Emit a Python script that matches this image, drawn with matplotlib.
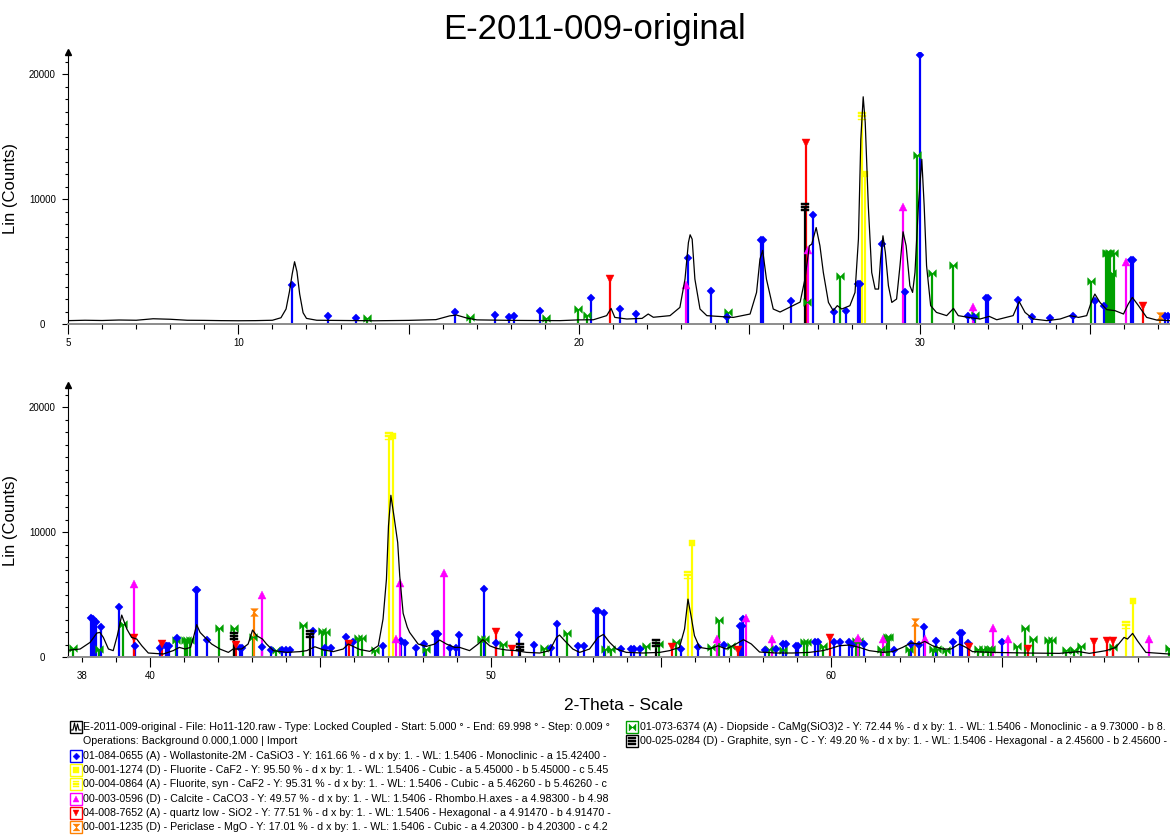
import matplotlib
matplotlib.use("Agg")
import matplotlib.pyplot as plt
from matplotlib.path import Path
from matplotlib.patches import Rectangle
from matplotlib.ticker import MultipleLocator, FixedLocator, FuncFormatter

plt.rcParams['font.family'] = ['Liberation Sans', 'DejaVu Sans']

top_theta = [5.0, 5.5, 6.0, 6.5, 7.0, 7.5, 8.0, 8.5, 9.0, 9.5, 10.0, 10.5, 11.0, 11.25, 11.4,
             11.5, 11.58, 11.65, 11.72, 11.8, 11.9, 12.0, 12.3, 13.0, 14.0, 15.0, 15.8, 16.2,
             16.4, 16.7, 17.0, 18.0, 19.0, 19.44, 20.0, 20.42, 20.81, 20.94, 21.05, 21.4, 21.85,
             22.03, 22.18, 22.67, 22.96, 23.11, 23.21, 23.26, 23.32, 23.4, 23.55, 23.75, 24.53,
             25.02, 25.21, 25.31, 25.39, 25.5, 25.7, 25.9, 26.28, 26.49, 26.63, 26.76, 26.83,
             26.96, 27.07, 27.17, 27.32, 27.46, 27.58, 27.71, 27.95, 28.1, 28.2, 28.27, 28.34,
             28.4, 28.49, 28.59, 28.69, 28.79, 28.85, 28.92, 28.99, 29.08, 29.18, 29.32, 29.42,
             29.51, 29.6, 29.71, 29.79, 29.86, 29.96, 30.06, 30.13, 30.2, 30.32, 30.49, 30.79,
             30.99, 31.13, 31.43, 31.77, 32.04, 32.26, 32.74, 32.92, 33.09, 33.33, 33.73, 34.12,
             34.41, 34.66, 34.9, 35.05, 35.14, 35.29, 35.49, 35.73, 35.98, 36.12, 36.24, 36.42,
             36.66, 36.95, 37.34, 37.6]
top_counts = [270, 300, 280, 320, 300, 420, 380, 300, 290, 270, 260, 270, 300, 500, 1200,
              2600, 4000, 4990, 4200, 2400, 900, 450, 300, 280, 260, 290, 350, 650,
              720, 480, 330, 290, 280, 270, 330, 340, 670, 1250, 530, 400, 450,
              800, 540, 670, 1330, 3600, 6530, 7150, 6800, 3600, 1200, 670, 530,
              800, 2530, 5200, 5900, 3600, 1200, 960, 1470, 1760, 3600, 6270, 6400,
              7730, 6270, 4130, 1730, 1070, 1470, 1200, 1470, 2530, 6800, 14800, 18210,
              16130, 9470, 4130, 2800, 2800, 5200, 7070, 5730, 3070, 1730, 2000, 4670,
              7390, 6270, 3070, 2530, 4130, 9470, 13200, 9470, 4670, 1470, 930, 670,
              1250, 670, 530, 400, 610, 340, 670, 1790, 930, 400, 270, 400,
              670, 530, 670, 1870, 2400, 1730, 1150, 1070, 800, 1600, 2130, 1470,
              530, 320, 270, 400]

bot_theta = [37.5, 37.95, 38.24, 38.44, 38.53, 38.63, 38.78, 38.92, 39.04, 39.17, 39.32, 39.46,
             39.61, 39.76, 39.95, 40.39, 40.68, 40.86, 41.03, 41.19, 41.29, 41.37, 41.47, 41.66,
             41.81, 42.05, 42.3, 42.44, 42.69, 42.88, 43.01, 43.13, 43.3, 43.42, 43.62, 44.01,
             44.4, 44.6, 44.84, 45.08, 45.38, 45.67, 45.82, 45.96, 46.16, 46.45, 46.7, 46.84,
             46.94, 47.0, 47.07, 47.16, 47.27, 47.33, 47.43, 47.55, 47.62, 47.87, 48.11, 48.36,
             48.5, 48.7, 48.94, 49.09, 49.38, 49.63, 49.77, 49.97, 50.17, 50.46, 50.75, 51.05,
             51.44, 51.73, 51.93, 52.02, 52.17, 52.41, 52.61, 52.9, 53.15, 53.31, 53.49, 53.69,
             53.98, 54.47, 54.96, 55.25, 55.54, 55.69, 55.79, 55.88, 55.98, 56.13, 56.42, 56.67,
             56.91, 57.2, 57.42, 57.65, 57.89, 58.38, 58.86, 59.35, 59.75, 59.99, 60.23, 60.53,
             60.82, 61.11, 61.5, 61.79, 62.09, 62.33, 62.58, 62.74, 62.97, 63.26, 63.51, 63.75,
             63.95, 64.14, 64.73, 65.71, 66.69, 67.27, 67.57, 68.06, 68.35, 68.59, 68.69, 68.84,
             68.98, 69.23, 69.91, 70.1]
bot_counts = [510, 640, 1170, 1920, 1970, 1570, 640, 510, 1710, 3360, 2240, 1570,
              1440, 900, 320, 240, 510, 770, 640, 770, 1710, 2590, 1970, 1440,
              1040, 640, 370, 640, 640, 1040, 2160, 1710, 1440, 1040, 510, 370,
              430, 510, 820, 580, 430, 640, 1040, 850, 600, 450, 900, 3040,
              6240, 10500, 12960, 11300, 9170, 6500, 3500, 2400, 1970, 1040, 850, 1040,
              1360, 1040, 770, 770, 510, 1040, 1390, 900, 690, 560, 510, 370,
              320, 510, 1570, 1760, 1310, 640, 370, 640, 1570, 1810, 1170, 640,
              370, 320, 370, 510, 770, 2240, 4640, 3300, 1710, 770, 640, 900,
              640, 1040, 1390, 1040, 400, 320, 320, 370, 510, 690, 900, 960,
              770, 510, 370, 430, 770, 1120, 1040, 1250, 900, 640, 640, 1040,
              770, 430, 370, 320, 290, 430, 290, 510, 770, 1570, 1440, 1890,
              1310, 370, 240, 240]

# reference patterns (stick positions in 2-theta, stick heights in counts)
wol_pos = [11.58, 12.64, 13.45, 16.36, 17.53, 17.94, 18.09, 18.85, 20.35, 21.21, 21.68, 23.21,
           23.87, 24.33, 25.33, 25.39, 26.22, 26.88, 27.49, 27.83, 28.2, 28.25, 28.9, 29.58,
           30.02, 31.43, 31.59, 31.94, 32.0, 32.89, 33.3, 33.83, 34.5, 35.14, 35.41, 36.2,
           36.25, 37.19, 37.3,
           38.27, 38.32, 38.36, 38.42, 38.56, 39.1, 39.56, 40.29, 40.47, 40.51, 40.56, 40.78,
           41.35, 41.39, 41.68, 42.64, 42.71, 43.3, 43.54, 43.86, 43.99, 44.11, 44.79, 45.15,
           45.3, 45.74, 45.96, 46.84, 47.38, 47.48, 47.82, 48.03, 48.36, 48.41, 48.45, 48.8,
           48.99, 49.07, 49.79, 50.17, 50.83, 51.26, 51.76, 51.96, 52.57, 52.73, 53.1, 53.16,
           53.32, 53.83, 54.12, 54.22, 54.37, 55.6, 56.08, 56.84, 57.33, 57.37, 57.4, 58.04,
           58.38, 58.57, 58.67, 58.96, 59.03, 59.53, 59.6, 60.09, 60.24, 60.53, 60.61, 60.97,
           61.85, 62.34, 62.56, 62.73, 63.07, 63.58, 63.78, 63.82, 64.0, 65.0]
wol_h = [3120, 640, 500, 960, 720, 560, 640, 1040, 2080, 1230, 800, 5310,
         2640, 560, 6770, 6770, 1840, 8770, 990, 1070, 3200, 3200, 6450, 2590,
         21570, 670, 560, 2100, 2100, 1950, 560, 510, 610, 1870, 1410, 5090,
         5090, 610, 610,
         3090, 3040, 2850, 2770, 2370, 3970, 910, 690, 850, 850, 850, 1520,
         5390, 5390, 1360, 690, 690, 770, 560, 560, 560, 560, 2050, 720,
         740, 1630, 1170, 910, 1310, 1120, 690, 1040, 1840, 1840, 1840, 740,
         740, 1790, 5490, 1120, 1790, 950, 740, 2640, 910, 910, 3710, 3710,
         3490, 640, 640, 640, 640, 640, 770, 990, 2450, 2450, 3040, 560,
         640, 1040, 1040, 850, 850, 1170, 1170, 1230, 1230, 1170, 950, 1040,
         560, 1040, 950, 2370, 1310, 1170, 1890, 1890, 1120, 1230]

flu_pos = [28.39, 47.14, 55.92, 68.84]
flu_h = [12050, 17700, 9120, 4450]

flusyn_pos = [28.31, 47.02, 55.79, 68.65]
flusyn_h = [16640, 17700, 6570, 2590]

cal_pos = [23.15, 26.73, 29.5, 31.55, 36.04, 39.53, 43.28, 47.23, 47.33, 48.63, 56.65, 57.5,
           58.25, 60.77, 61.51, 62.75, 64.75, 65.17, 69.31]
cal_h = [3150, 5900, 9410, 1390, 4930, 5880, 4970, 1440, 5920, 6770, 1410, 3130,
         1410, 1490, 1410, 1410, 2290, 1410, 1410]

qtz_pos = [20.91, 26.67, 36.56, 39.53, 40.35, 42.52, 45.83, 50.17, 50.63, 55.33, 57.25, 59.96,
           64.03, 65.76, 67.71, 68.1, 68.28]
qtz_h = [3600, 14530, 1410, 1540, 1040, 1000, 1040, 2030, 640, 770, 560, 1490,
         820, 640, 1170, 1250, 1250]

per_pos = [37.04, 43.05, 62.45]
per_h = [670, 3600, 2830]

dio_pos = [13.78, 16.8, 19.03, 19.98, 20.22, 24.36, 26.7, 27.66, 29.93, 30.37, 30.97, 31.63,
           35.03, 35.46, 35.51, 35.55, 35.59, 35.65, 35.71,
           37.73, 38.51, 39.2, 40.77, 41.04, 41.1, 41.16, 42.02, 42.48, 43.03, 43.71, 44.48,
           45.06, 45.18, 46.11, 46.21, 46.6, 48.11, 49.72, 49.82, 50.36, 51.55, 52.24, 53.35,
           53.54, 54.56, 54.94, 55.43, 56.47, 56.7, 57.06, 58.18, 58.59, 59.21, 59.28, 59.75,
           60.72, 60.82, 61.46, 61.63, 61.7, 62.27, 62.99, 63.09, 63.36, 64.29, 64.44, 64.59,
           64.68, 65.45, 65.68, 65.93, 66.37, 66.47, 66.9, 67.13, 67.34, 68.27, 69.91]
dio_h = [500, 560, 480, 1200, 750, 960, 1730, 3870, 13550, 4050, 4720, 750,
         3470, 5710, 5710, 5710, 5710, 4080, 5710,
         700, 640, 2670, 1390, 1360, 1360, 1360, 2290, 2290, 1570, 560, 2590,
         2080, 1970, 1510, 1520, 560, 640, 1440, 1440, 1040, 720, 1890, 640,
         640, 910, 1040, 1170, 770, 2960, 850, 640, 560, 1170, 1170, 850,
         1310, 1310, 640, 1630, 1630, 640, 640, 640, 560, 640, 640, 640,
         640, 850, 2290, 1440, 1360, 1360, 560, 560, 850, 770, 690]

gra_pos = [26.63, 42.47, 44.71, 50.85, 54.84]
gra_h = [9400, 1700, 1840, 820, 1120]

legend_left = [
    "01-084-0655 (A) - Wollastonite-2M - CaSiO3 - Y: 161.66 % - d x by: 1. - WL: 1.5406 - Monoclinic - a 15.42400 -",
    "00-001-1274 (D) - Fluorite - CaF2 - Y: 95.50 % - d x by: 1. - WL: 1.5406 - Cubic - a 5.45000 - b 5.45000 - c 5.45",
    "00-004-0864 (A) - Fluorite, syn - CaF2 - Y: 95.31 % - d x by: 1. - WL: 1.5406 - Cubic - a 5.46260 - b 5.46260 - c",
    "00-003-0596 (D) - Calcite - CaCO3 - Y: 49.57 % - d x by: 1. - WL: 1.5406 - Rhombo.H.axes - a 4.98300 - b 4.98",
    "04-008-7652 (A) - quartz low - SiO2 - Y: 77.51 % - d x by: 1. - WL: 1.5406 - Hexagonal - a 4.91470 - b 4.91470 -",
    "00-001-1235 (D) - Periclase - MgO - Y: 17.01 % - d x by: 1. - WL: 1.5406 - Cubic - a 4.20300 - b 4.20300 - c 4.2",
]
legend_right = [
    "01-073-6374 (A) - Diopside - CaMg(SiO3)2 - Y: 72.44 % - d x by: 1. - WL: 1.5406 - Monoclinic - a 9.73000 - b 8.",
    "00-025-0284 (D) - Graphite, syn - C - Y: 49.20 % - d x by: 1. - WL: 1.5406 - Hexagonal - a 2.45600 - b 2.45600 -",
]
scan_info = ["E-2011-009-original - File: Ho11-120.raw - Type: Locked Coupled - Start: 5.000 \u00b0 - End: 69.998 \u00b0 - Step: 0.009 \u00b0",
             "Operations: Background 0.000,1.000 | Import"]

# marker shapes used by the search/match software
M, L, C = Path.MOVETO, Path.LINETO, Path.CLOSEPOLY
bowtie = Path([(-1, 1), (-1, -1), (1, 1), (1, -1), (-1, 1)], [M, L, L, L, C])
hourglass = Path([(-1, 1), (1, 1), (-1, -1), (1, -1), (-1, 1)], [M, L, L, L, C])
bars = Path([(-1, 0.6), (1, 0.6), (1, 1), (-1, 1), (-1, 0.6),
             (-1, -0.2), (1, -0.2), (1, 0.2), (-1, 0.2), (-1, -0.2),
             (-1, -1), (1, -1), (1, -0.6), (-1, -0.6), (-1, -1)],
            [M, L, L, L, C] * 3)

phases = [
    (dio_pos, dio_h, '#00a000', bowtie, 5.5),
    (wol_pos, wol_h, '#0000ff', 'D', 4.0),
    (cal_pos, cal_h, '#ff00ff', '^', 5.5),
    (qtz_pos, qtz_h, '#ff0000', 'v', 5.5),
    (per_pos, per_h, '#ff8000', hourglass, 5.5),
    (gra_pos, gra_h, 'black', bars, 5.5),
    (flusyn_pos, flusyn_h, '#ffff00', bars, 6.0),
    (flu_pos, flu_h, '#ffff00', 's', 5.0),
]

W, H = 1170, 836
fig = plt.figure(figsize=(W / 100, H / 100), dpi=100)

ax_top = fig.add_axes([68 / W, (H - 324) / H, 1102 / W, 272 / H])
ax_bot = fig.add_axes([68 / W, (H - 657) / H, 1104 / W, 272 / H])


def draw_panel(ax, theta, counts, lo, hi, extra_label):
    for pos, h, col, mk, ms in phases:
        ax.vlines(pos, 0, h, colors=col, lw=1.6, zorder=2)
        ax.plot(pos, h, ls='none', marker=mk, color=col, ms=ms, mec=col, mew=0.3, zorder=3)
    ax.plot(theta, counts, color='black', lw=0.9, zorder=4)

    ax.set_xlim(lo, hi)
    ax.set_ylim(0, 21800)
    ax.spines['top'].set_visible(False)
    ax.spines['right'].set_visible(False)
    ax.spines['bottom'].set_color('0.55')
    ax.spines['bottom'].set_linewidth(1.4)
    ax.spines['left'].set_linewidth(0.8)

    ax.xaxis.set_major_locator(MultipleLocator(5))
    ax.xaxis.set_minor_locator(MultipleLocator(1))
    ax.xaxis.set_major_formatter(FuncFormatter(
        lambda v, p: f'{v:.0f}' if (round(v) % 10 == 0 or abs(v - extra_label) < 1e-6) else ''))
    ax.xaxis.set_minor_formatter(FuncFormatter(
        lambda v, p: f'{v:.0f}' if abs(v - extra_label) < 1e-6 else ''))
    ax.yaxis.set_major_locator(FixedLocator([0, 10000, 20000]))
    ax.yaxis.set_minor_locator(MultipleLocator(1000))

    ax.tick_params(axis='x', which='major', length=7, width=0.8, labelsize=7, pad=3)
    ax.tick_params(axis='x', which='minor', length=3.5, width=0.8, labelsize=7, pad=6.5)
    ax.tick_params(axis='y', which='major', length=4, width=0.8, labelsize=7, pad=14.5)
    ax.tick_params(axis='y', which='minor', length=2.2, width=0.8)
    for lbl in ax.get_yticklabels():
        lbl.set_horizontalalignment('center')

    ax.set_ylabel('Lin (Counts)', fontsize=12)
    ax.yaxis.set_label_coords(-50 / 1102, 0.5)
    ax.plot([0], [1], marker='^', color='black', ms=5, transform=ax.transAxes, clip_on=False)


draw_panel(ax_top, top_theta, top_counts, 5.0, 5.0 + 1102 / 34.07, 5)
draw_panel(ax_bot, bot_theta, bot_counts, 40 - 82 / 34.07, 40 + 1022 / 34.07, 38)

fig.text(595 / W, 1 - 30 / H, 'E-2011-009-original', fontsize=25, ha='center', va='center')
fig.text(624 / W, 1 - 706 / H, '2-Theta - Scale', fontsize=12.5, ha='center', va='center')

# legend drawn in pixel space
leg = fig.add_axes([0, 0, 1, 1])
leg.set_xlim(0, W)
leg.set_ylim(H, 0)
leg.axis('off')

row0, step = 727, 14.3
fs = 7.65


def icon(x, y, col, mk, ms):
    leg.add_patch(Rectangle((x, y - 6), 12, 12, fill=False, ec=col, lw=1.0))
    leg.plot(x + 6, y, marker=mk, color=col, mec=col, mew=0.3, ms=ms)


# scan icon
leg.add_patch(Rectangle((70, row0 - 6), 12, 12, fill=False, ec='black', lw=1.0))
leg.plot([71, 73, 74.5, 76, 77.5, 79, 81], [row0 + 3, row0 + 3, row0 - 4, row0 + 4, row0 - 3, row0 + 3, row0 + 3],
         color='black', lw=0.8)
leg.text(83, row0, scan_info[0], fontsize=fs, va='center')
leg.text(83, row0 + step, scan_info[1], fontsize=fs, va='center')

left_styles = [('#0000ff', 'D', 3.5), ('#ffff00', 's', 4.5), ('#ffff00', bars, 5),
               ('#ff00ff', '^', 5), ('#ff0000', 'v', 5), ('#ff8000', hourglass, 5)]
for i, (txt, (col, mk, ms)) in enumerate(zip(legend_left, left_styles)):
    y = row0 + step * (i + 2)
    icon(70, y, col, mk, ms)
    leg.text(83, y, txt, fontsize=fs, va='center')

right_styles = [('#00a000', bowtie, 5), ('black', bars, 5.5)]
for i, (txt, (col, mk, ms)) in enumerate(zip(legend_right, right_styles)):
    y = row0 + step * i
    icon(626, y, col, mk, ms)
    leg.text(640, y, txt, fontsize=fs, va='center')

fig.savefig('out.png', dpi=100)
